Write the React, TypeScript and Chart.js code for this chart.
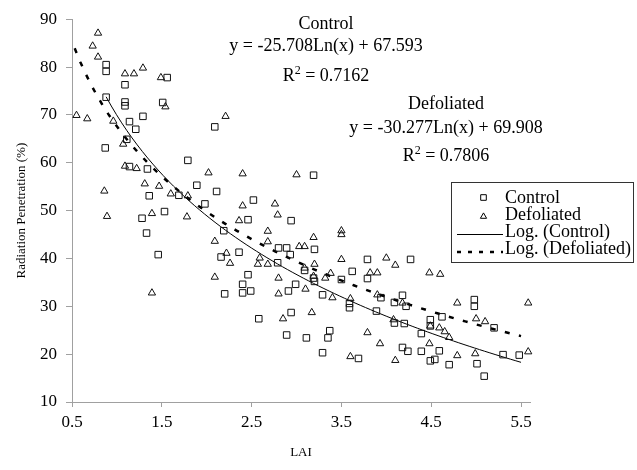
import React, { useEffect, useRef } from "react";
import { Chart, registerables } from "chart.js";

Chart.register(...registerables);

// ---------- data ----------
const controlLAI = [
  0.88, 0.88, 0.88, 0.87, 1.09, 1.09, 1.09, 1.14, 1.21, 1.11, 1.14, 1.29, 1.34, 1.36, 1.28, 1.33,
  1.46, 1.51, 1.56, 1.53, 1.69, 1.79, 1.89, 1.98, 2.09, 2.11, 2.19, 2.16, 2.2, 2.36, 2.4, 2.4,
  2.46, 2.49, 2.46, 2.52, 2.58, 2.79, 2.8, 2.89, 2.93, 2.94, 2.99, 2.91, 2.94, 2.89, 3.09, 3.11,
  3.19, 3.2, 3.19, 3.2, 3.29, 3.29, 3.35, 3.37, 3.5, 3.59, 3.59, 3.62, 3.69, 3.79, 3.79, 3.89,
  3.94, 4.09, 4.09, 4.18, 4.18, 4.2, 4.22, 4.24, 4.27, 4.39, 4.39, 4.49, 4.49, 4.54, 4.59, 4.62,
  4.7, 4.98, 4.98, 5.01, 5.09, 5.2, 5.3, 5.48, 4.49,
];
const controlPenetration = [
  80.5, 79.1, 73.7, 63.1, 76.3, 72.7, 71.9, 68.6, 67.0, 64.9, 59.2, 69.7, 58.7, 53.1, 48.4, 45.3,
  40.8, 72.6, 77.8, 49.8, 53.2, 60.5, 55.3, 51.4, 67.5, 54.0, 45.8, 40.3, 32.6, 41.3, 34.6, 32.8,
  36.6, 33.2, 48.1, 52.2, 27.4, 39.1, 42.2, 42.2, 40.8, 47.9, 34.6, 33.2, 28.7, 24.0, 37.5, 23.4,
  57.4, 41.9, 35.9, 35.2, 32.4, 20.3, 23.4, 24.9, 35.6, 30.6, 29.7, 37.3, 19.1, 39.8, 35.8, 29.0,
  31.8, 30.8, 26.5, 32.3, 21.4, 26.4, 30.0, 20.6, 39.8, 24.3, 20.6, 27.2, 18.6, 18.9, 20.7, 27.8,
  17.8, 31.4, 30.0, 18.0, 15.4, 25.5, 19.9, 19.8, 25.9,
];
const defoliatedLAI = [
  0.55, 0.67, 0.73, 0.79, 0.79, 0.96, 0.86, 0.89, 1.07, 1.09, 1.19, 1.29, 1.09, 1.22, 1.31, 1.39,
  1.39, 1.47, 1.49, 1.54, 1.6, 1.78, 1.79, 2.02, 2.09, 2.09, 2.21, 2.22, 2.26, 2.36, 2.4, 2.4,
  2.59, 2.57, 2.68, 2.68, 2.68, 2.76, 2.79, 2.8, 2.8, 2.85, 3.0, 3.03, 3.09, 3.1, 3.09, 3.19,
  3.2, 3.19, 3.17, 3.32, 3.38, 3.4, 3.5, 3.5, 3.5, 3.6, 3.6, 3.79, 3.82, 3.9, 3.9, 3.93,
  4.0, 4.1, 4.08, 4.1, 4.18, 4.48, 4.6, 4.48, 4.49, 4.59, 4.65, 4.7, 4.79, 4.79, 4.99, 5.0,
  5.1, 5.58, 5.58,
];
const defoliatedPenetration = [
  69.9, 69.2, 84.4, 87.1, 82.1, 68.7, 54.1, 48.8, 63.9, 78.6, 78.6, 79.8, 59.3, 58.8, 55.6, 49.4,
  32.8, 55.1, 77.8, 71.7, 53.5, 48.7, 53.1, 57.9, 43.6, 36.1, 69.7, 41.1, 39.0, 47.9, 57.7, 51.0,
  40.1, 38.8, 45.7, 43.5, 38.8, 51.4, 49.1, 35.9, 32.6, 27.4, 57.5, 42.5, 42.5, 33.6, 38.0, 44.4,
  38.8, 36.3, 28.7, 35.9, 36.9, 31.8, 45.8, 45.0, 39.8, 19.5, 31.6, 24.5, 37.0, 37.0, 32.4, 22.2,
  40.1, 38.6, 27.2, 18.7, 30.7, 37.0, 36.7, 22.2, 25.9, 25.5, 24.7, 23.5, 30.7, 19.7, 20.1, 27.4,
  26.8, 30.7, 20.5,
];

const xTickValues = [0.5, 1.5, 2.5, 3.5, 4.5, 5.5];
const yTickValues = [10, 20, 30, 40, 50, 60, 70, 80, 90];

// logarithmic trend lines (y = a*ln(x) + b) as drawn in the figure
const solidTrend = { a: -30.277, b: 69.908, from: 0.88, to: 5.5 };
const dashedTrend = { a: -25.708, b: 67.593, from: 0.53, to: 5.5 };

const annotationBlocks = [
  { title: "Control", equation: "y = -25.708Ln(x) + 67.593", r2: "0.7162" },
  { title: "Defoliated", equation: "y = -30.277Ln(x) + 69.908", r2: "0.7806" },
];
const legendLabels = ["Control", "Defoliated", "Log. (Control)", "Log. (Defoliated)"];

// ---------- helpers ----------
function trendPoints(t: { a: number; b: number; from: number; to: number }) {
  const pts: { x: number; y: number }[] = [];
  const n = 80;
  for (let i = 0; i <= n; i++) {
    const x = t.from + ((t.to - t.from) * i) / n;
    pts.push({ x, y: t.a * Math.log(x) + t.b });
  }
  return pts;
}
function zip(xs: number[], ys: number[]) {
  return xs.map((x, i) => ({ x, y: ys[i] }));
}

const FONT = '"Liberation Serif", "Times New Roman", serif';

function drawSquare(ctx: CanvasRenderingContext2D, x: number, y: number, half: number) {
  ctx.beginPath();
  ctx.rect(x - half, y - half, half * 2, half * 2);
  ctx.stroke();
}
function drawTriangle(ctx: CanvasRenderingContext2D, x: number, y: number, r: number) {
  ctx.beginPath();
  for (let k = 0; k < 3; k++) {
    const ang = (k * 2 * Math.PI) / 3;
    const px = x + Math.sin(ang) * r;
    const py = y - Math.cos(ang) * r;
    if (k === 0) ctx.moveTo(px, py);
    else ctx.lineTo(px, py);
  }
  ctx.closePath();
  ctx.stroke();
}

function drawR2(ctx: CanvasRenderingContext2D, cx: number, baseline: number, value: string) {
  const main = `18px ${FONT}`;
  const sup = `12px ${FONT}`;
  ctx.font = main;
  const wR = ctx.measureText("R").width;
  const rest = " = " + value;
  const wRest = ctx.measureText(rest).width;
  ctx.font = sup;
  const w2 = ctx.measureText("2").width;
  const total = wR + w2 + wRest;
  let x = cx - total / 2;
  ctx.textAlign = "left";
  ctx.font = main;
  ctx.fillText("R", x, baseline);
  x += wR;
  ctx.font = sup;
  ctx.fillText("2", x, baseline - 7);
  x += w2;
  ctx.font = main;
  ctx.fillText(rest, x, baseline);
}

const overlayPlugin = {
  id: "overlay",
  afterDraw(chart: any) {
    const ctx: CanvasRenderingContext2D = chart.ctx;
    ctx.save();
    ctx.fillStyle = "#000";
    ctx.strokeStyle = "#000";
    ctx.textBaseline = "alphabetic";

    // equations
    const blocks = [
      { cx: 326, lines: [28.5, 51, 81] },
      { cx: 446, lines: [109, 133, 161] },
    ];
    blocks.forEach((b, i) => {
      const a = annotationBlocks[i];
      ctx.font = `18px ${FONT}`;
      ctx.textAlign = "center";
      ctx.fillText(a.title, b.cx, b.lines[0]);
      ctx.fillText(a.equation, b.cx, b.lines[1]);
      drawR2(ctx, b.cx, b.lines[2], a.r2);
    });

    // legend
    ctx.lineWidth = 1;
    ctx.strokeStyle = "#333";
    ctx.strokeRect(451.5, 182.5, 182, 80);
    ctx.strokeStyle = "#000";
    ctx.font = `18px ${FONT}`;
    ctx.textAlign = "left";
    const baselines = [202.5, 219.5, 237, 254];
    legendLabels.forEach((lab, i) => ctx.fillText(lab, 505, baselines[i]));
    ctx.lineWidth = 1;
    drawSquare(ctx, 483.5, 197.5, 2.8);
    drawTriangle(ctx, 483.5, 216.5, 3.6);
    ctx.beginPath();
    ctx.moveTo(457, 234.5);
    ctx.lineTo(503, 234.5);
    ctx.stroke();
    ctx.lineWidth = 2.5;
    ctx.setLineDash([4, 7]);
    ctx.beginPath();
    ctx.moveTo(457, 252);
    ctx.lineTo(503, 252);
    ctx.stroke();
    ctx.setLineDash([]);
    ctx.restore();
  },
};

export default function App() {
  const ref = useRef<HTMLCanvasElement | null>(null);
  useEffect(() => {
    document.body.style.margin = "0";
    if (!ref.current) return;
    const axisColor = "#a0a0a0";
    const chart = new Chart(ref.current, {
      type: "scatter",
      data: {
        datasets: [
          {
            label: "Control",
            data: zip(controlLAI, controlPenetration),
            pointStyle: "rect",
            pointRadius: 4.6,
            pointBorderWidth: 1,
            pointBorderColor: "#111",
            pointBackgroundColor: "rgba(0,0,0,0)",
            clip: false as any,
          },
          {
            label: "Defoliated",
            data: zip(defoliatedLAI, defoliatedPenetration),
            pointStyle: "triangle",
            pointRadius: 4.2,
            pointBorderWidth: 1,
            pointBorderColor: "#111",
            pointBackgroundColor: "rgba(0,0,0,0)",
            clip: false as any,
          },
          {
            label: "Log. (Control)",
            data: trendPoints(solidTrend),
            showLine: true,
            pointRadius: 0,
            borderColor: "#000",
            borderWidth: 1,
            fill: false,
          },
          {
            label: "Log. (Defoliated)",
            data: trendPoints(dashedTrend),
            showLine: true,
            pointRadius: 0,
            borderColor: "#000",
            borderWidth: 2.5,
            borderDash: [5, 9.5],
            fill: false,
          },
        ],
      },
      options: {
        animation: false,
        responsive: false,
        devicePixelRatio: 1,
        layout: { padding: { top: 16, right: 107, left: 0, bottom: 0 } },
        plugins: {
          legend: { display: false },
          tooltip: { enabled: false },
        },
        scales: {
          x: {
            type: "linear",
            min: 0.5,
            max: 5.6,
            afterBuildTicks: (s: any) => {
              s.ticks = xTickValues.map((v) => ({ value: v }));
            },
            afterFit: (s: any) => {
              s.height = 68;
            },
            grid: {
              display: true,
              drawOnChartArea: false,
              drawTicks: true,
              tickLength: 5,
              color: axisColor,
              lineWidth: 1,
            },
            border: { display: true, color: axisColor, width: 1 },
            ticks: {
              color: "#000",
              font: { family: FONT, size: 17 },
              padding: 5,
              maxRotation: 0,
              autoSkip: false,
              callback: (v: any) => Number(v).toFixed(1),
            },
            title: {
              display: true,
              text: "LAI",
              color: "#000",
              font: { family: FONT, size: 13 },
              padding: { top: 0, bottom: 10 },
            },
          },
          y: {
            type: "linear",
            min: 10,
            max: 90,
            afterBuildTicks: (s: any) => {
              s.ticks = yTickValues.map((v) => ({ value: v }));
            },
            afterFit: (s: any) => {
              s.width = 72;
            },
            grid: {
              display: true,
              drawOnChartArea: false,
              drawTicks: true,
              tickLength: 6,
              color: axisColor,
              lineWidth: 1,
            },
            border: { display: true, color: axisColor, width: 1 },
            ticks: {
              color: "#000",
              font: { family: FONT, size: 17 },
              padding: 9,
              autoSkip: false,
            },
            title: {
              display: true,
              text: "Radiation Penetration (%)",
              color: "#000",
              font: { family: FONT, size: 13 },
              padding: { top: 14, bottom: 0 },
            },
          },
        },
      } as any,
      plugins: [overlayPlugin],
    });
    return () => chart.destroy();
  }, []);
  return (
    <div style={{ width: 637, height: 470, background: "#fff" }}>
      <canvas ref={ref} width={637} height={470} style={{ display: "block" }} />
    </div>
  );
}
